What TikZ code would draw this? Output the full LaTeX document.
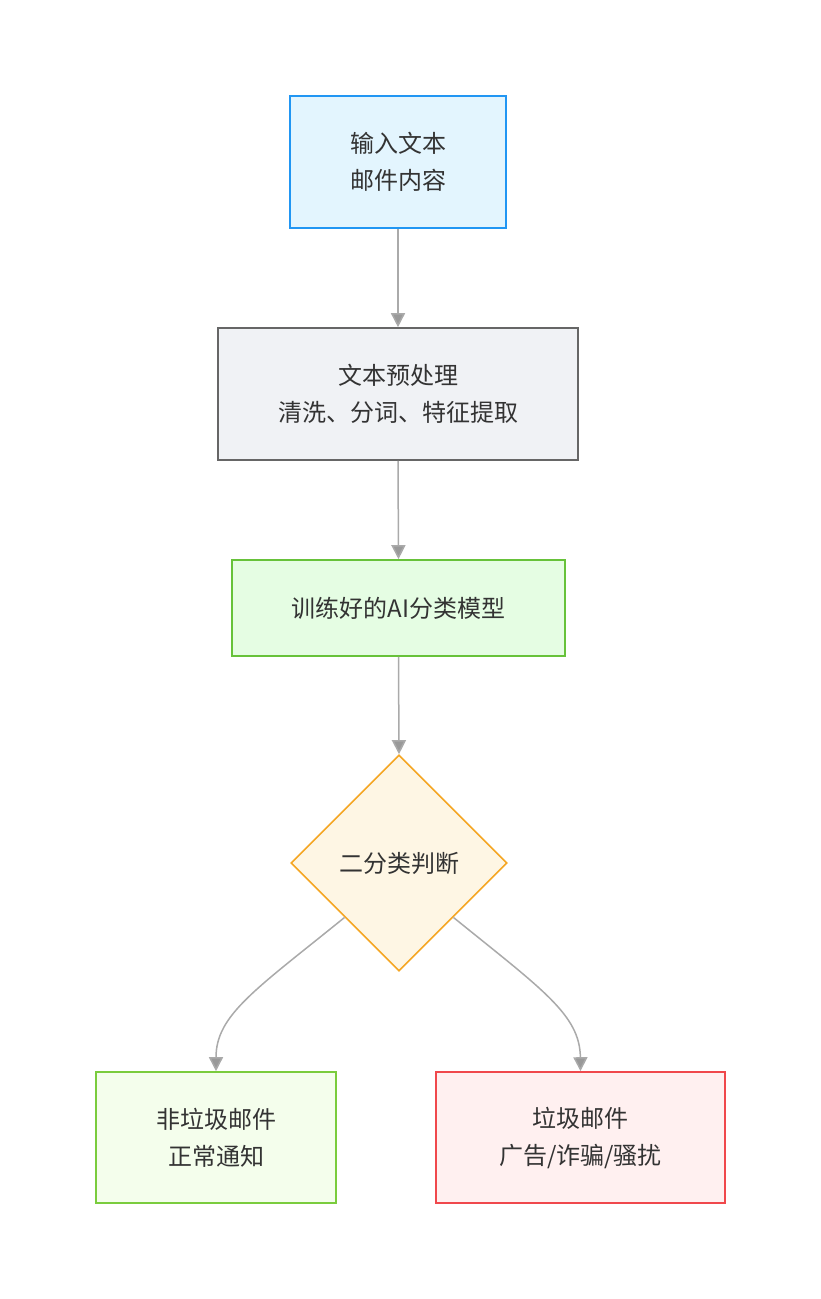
\documentclass[tikz,border=0pt]{standalone}
\usepackage{fontspec}
\setmainfont{Noto Sans CJK SC}
\usetikzlibrary{arrows.meta,shapes.geometric}
\definecolor{txt}{HTML}{333333}
\definecolor{ln}{HTML}{AAAAAA}
\definecolor{tipc}{HTML}{999999}
\definecolor{bluefill}{HTML}{E3F5FE}
\definecolor{blueline}{HTML}{2196F3}
\definecolor{grayfill}{HTML}{F0F2F5}
\definecolor{grayline}{HTML}{666666}
\definecolor{greenfill}{HTML}{E5FDE3}
\definecolor{greenline}{HTML}{67C23A}
\definecolor{orfill}{HTML}{FEF6E4}
\definecolor{orline}{HTML}{F5A623}
\definecolor{lgfill}{HTML}{F4FEEC}
\definecolor{lgline}{HTML}{7ACC3D}
\definecolor{redfill}{HTML}{FFF0F0}
\definecolor{redline}{HTML}{F0484C}
\begin{document}
\begin{tikzpicture}[x=1pt,y=-1pt,
  box/.style={draw, line width=1.6pt, rectangle, align=center, inner sep=0pt,
    text=txt, font=\fontsize{24}{37}\selectfont},
  conn/.style={draw=ln, line width=1.5pt,
    -{Triangle[length=14pt,width=14pt,fill=tipc]}}]
\useasboundingbox (0,0) rectangle (821,1299);
\fill[white] (0,0) rectangle (821,1299);
\node[box, fill=bluefill, draw=blueline, minimum width=216pt, minimum height=132pt] (in) at (398,162) {输入文本\\邮件内容};
\node[box, fill=grayfill, draw=grayline, minimum width=360pt, minimum height=132pt] (pre) at (398,394) {文本预处理\\清洗、分词、特征提取};
\node[box, fill=greenfill, draw=greenline, minimum width=333pt, minimum height=96pt] (model) at (398.5,608) {训练好的AI分类模型};
\node[box, diamond, fill=orfill, draw=orline, minimum width=216pt, minimum height=216pt, aspect=1] (dec) at (399,863) {二分类判断};
\node[box, fill=lgfill, draw=lgline, minimum width=240pt, minimum height=131pt] (ham) at (216,1137.5) {非垃圾邮件\\正常通知};
\node[box, fill=redfill, draw=redline, minimum width=289pt, minimum height=131pt] (spam) at (580.5,1137.5) {垃圾邮件\\广告/诈骗/骚扰};
\draw[conn] (in.south) -- (pre.north);
\draw[conn] (pre.south) -- (model.north);
\draw[conn] (model.south) -- (dec.north);
\draw[conn] (dec.south west) .. controls (255,990) and (216,1015) .. (ham.north);
\draw[conn] (dec.south east) .. controls (543,990) and (580,1015) .. (spam.north);
\end{tikzpicture}
\end{document}
